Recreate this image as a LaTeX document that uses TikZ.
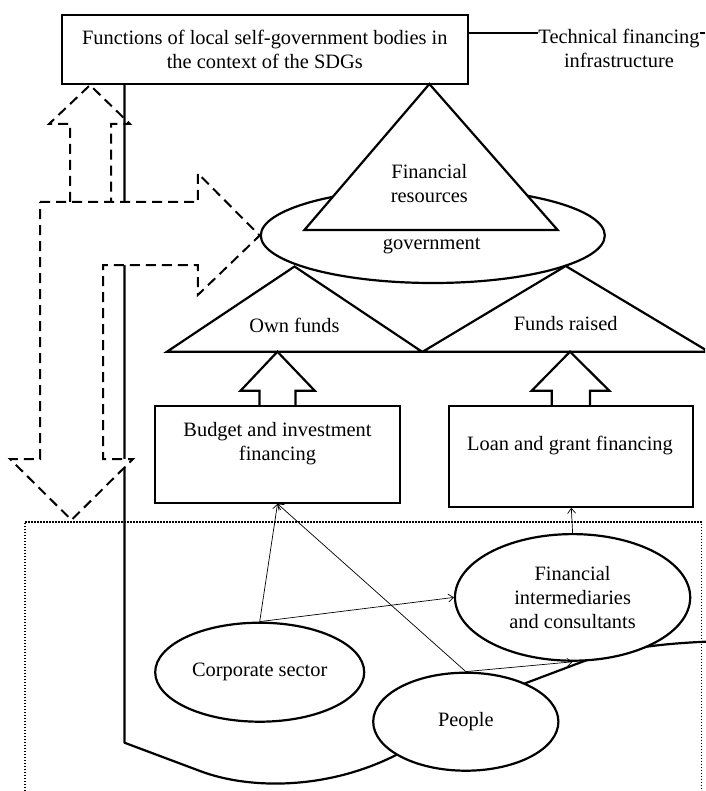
\documentclass[tikz,border=0pt]{standalone}
\usepackage{fontspec}
\setmainfont{Liberation Serif}
\usetikzlibrary{shapes.geometric,arrows.meta,backgrounds}
\begin{document}
\begin{tikzpicture}[x=1pt,y=-1pt,
  every node/.style={font=\fontsize{20.4}{24}\selectfont, inner sep=0pt},
  boxst/.style={draw, line width=2.2pt, fill=white, rectangle, align=center},
  ellst/.style={draw, line width=2.2pt, fill=white, ellipse, inner sep=0pt, align=center},
  shapest/.style={draw, line width=2.2pt, fill=white, line join=miter},
  dashst/.style={line width=2pt, dash pattern=on 10pt off 6pt},
  dotst/.style={line width=1.6pt, dash pattern=on 1.4pt off 1.6pt},
  thinarrow/.style={line width=0.7pt, -{Straight Barb[length=5pt,width=8pt]}},
  txt/.style={align=center}]
\useasboundingbox (0,0) rectangle (705,791);
\clip (0,0) rectangle (705,791);

% top box and technical infrastructure
\node[boxst, minimum width=405.6pt, minimum height=69pt] (top) at (264.8,49.5)
  {Functions of local self-government bodies in\\the context of the SDGs};
\node[txt] (tech) at (619,48.5) {Technical financing\\infrastructure};
\coordinate (t1) at (top.east |- 0,33.3);
\draw[line width=2pt] (t1) -- (t1 -| tech.west);
\draw[line width=2pt] (t1 -| tech.east) -- (705,33.3);

% local self-government ellipse
\node[ellst, minimum width=344pt, minimum height=95pt] (lsg) at (432.8,235.5) {};
\node (lsgtext) at (431.7,246) {government};

% financial resources triangle
\coordinate (fra) at (429.4,84);
\coordinate (frl) at (304.4,230);
\coordinate (frr) at (557.6,230);
\draw[shapest] (fra) -- (frl) -- (frr) -- cycle;
\node[txt] (frtext) at (429.4,183.5) {Financial\\resources};

% own funds / funds raised
\coordinate (ofa) at (294.5,266.5);
\coordinate (ofl) at (167,351.7);
\coordinate (ofr) at (422,351.7);
\draw[shapest] (ofa) -- (ofl) -- (ofr) -- cycle;
\node (oftext) at (294.5,325) {Own funds};
\coordinate (fra2) at (565.7,266);
\coordinate (frl2) at (422.7,351.7);
\coordinate (frr2) at (708.7,351.7);
\draw[shapest] (fra2) -- (frl2) -- (frr2) -- cycle;
\node (frtext2) at (565.7,324) {Funds raised};

% block arrows
\draw[shapest] (259.4,406) -- (259.4,390.7) -- (240.6,390.7) -- (277.4,351.7)
  -- (314.7,390.7) -- (295.4,390.7) -- (295.4,406);
\draw[shapest] (551.7,406) -- (551.7,390.7) -- (531.7,390.7) -- (570,351.7)
  -- (609.3,390.7) -- (590,390.7) -- (590,406);

% financing boxes
\node[boxst, minimum width=245pt, minimum height=96.7pt] (budget) at (277.5,454.35) {};
\node[txt] (budgettext) at (277.5,443.3) {Budget and investment\\financing};
\node[boxst, minimum width=244pt, minimum height=100.7pt] (loan) at (571.3,456.35) {};
\node (loantext) at (570,446) {Loan and grant financing};

% dotted environment frame
\draw[dotst] (24.7,800) -- (24.7,521.7) -- (701.4,521.7) -- (701.4,800);

% actors
\node[ellst, minimum width=235.2pt, minimum height=126.6pt] (fin) at (572.6,597.4)
  {Financial\\intermediaries\\and consultants};
\node[ellst, minimum width=209pt, minimum height=99pt] (corp) at (259.7,672.2) {Corporate sector};
\node[ellst, minimum width=185.2pt, minimum height=98pt] (people) at (465.8,721.7) {People};

% thin arrows
\draw[thinarrow] (corp.north) -- (budget.south);
\draw[thinarrow] (corp.north) -- (fin.west);
\draw[thinarrow] (people.north) -- (budget.south);
\draw[thinarrow] (people.north) -- (fin.south);
\draw[thinarrow] (fin.north) -- (loan.south);

\begin{pgfonlayer}{background}
  % solid boundary line
  \coordinate (c0) at (top.south -| 124.5,0);
  \draw[line width=2.2pt, line join=round] (c0) -- (124.5,742.7) -- (200,771)
    .. controls (250,790) and (330,790) .. (400,753) -- (526,683) -- (587,660)
    .. controls (620,650) and (650,644) .. (710,641.5);
  % dashed bent double arrow
  \draw[dashst, fill=white] (40,202) -- (197.8,202) -- (197.8,173.3) -- (lsg.west)
    -- (197.8,295) -- (197.8,265) -- (103,265) -- (103,459) -- (133,459)
    -- (71.5,520) -- (10,459) -- (40,459) -- cycle;
  % dashed up arrow to the top box
  \draw[dashst] (70,202) -- (70,124) -- (49,124) -- (top.south -| 90,0)
    -- (130,124) -- (111,124) -- (111,202);
\end{pgfonlayer}
\end{tikzpicture}
\end{document}
